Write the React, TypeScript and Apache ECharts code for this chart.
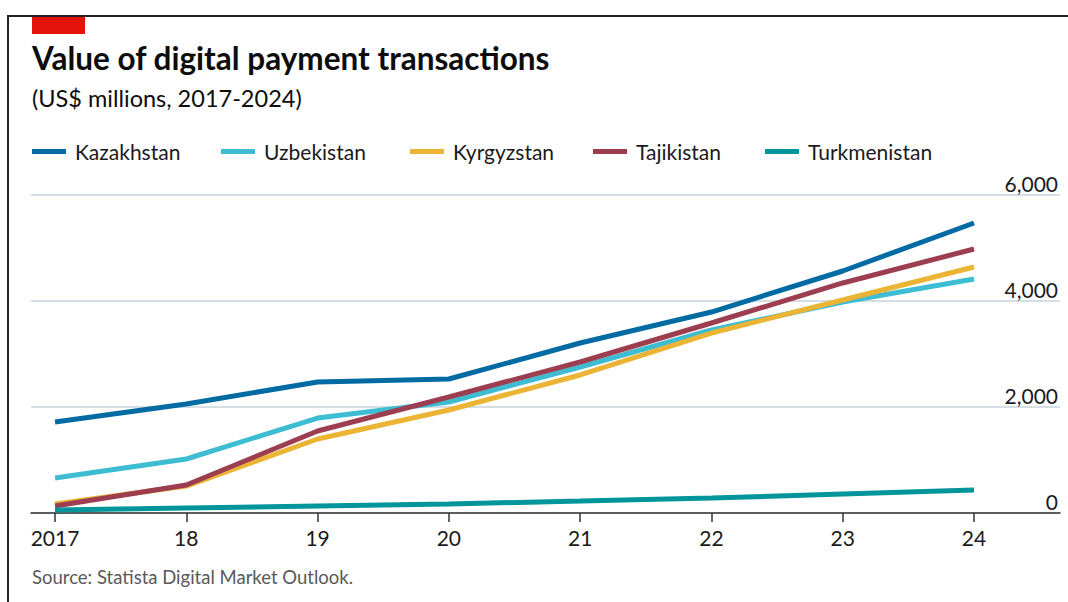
import React, { useEffect, useRef } from "react";
import * as echarts from "echarts";

const years = [2017, 2018, 2019, 2020, 2021, 2022, 2023, 2024];
const yearLabels = ["2017", "18", "19", "20", "21", "22", "23", "24"];
const kazakhstan = [1717, 2057, 2472, 2528, 3208, 3792, 4566, 5472];
const uzbekistan = [660, 1019, 1792, 2094, 2755, 3453, 3981, 4415];
const kyrgyzstan = [170, 509, 1396, 1943, 2604, 3396, 4019, 4642];
const tajikistan = [132, 528, 1547, 2189, 2849, 3585, 4340, 4981];
const turkmenistan = [57, 94, 132, 170, 226, 283, 358, 434];
const yTicks = [0, 2000, 4000, 6000];

const seriesDefs = [
  { name: "Kazakhstan", data: kazakhstan, color: "#006ba2", legendLeft: 32 },
  { name: "Uzbekistan", data: uzbekistan, color: "#3ebcd2", legendLeft: 221 },
  { name: "Kyrgyzstan", data: kyrgyzstan, color: "#ebb434", legendLeft: 410 },
  { name: "Tajikistan", data: tajikistan, color: "#9c3e50", legendLeft: 593 },
  { name: "Turkmenistan", data: turkmenistan, color: "#00959a", legendLeft: 765 },
];

const FONT = "Lato, 'Open Sans', 'DejaVu Sans', sans-serif";

export default function App() {
  const ref = useRef<HTMLDivElement>(null);
  useEffect(() => {
    if (!ref.current) return;
    const chart = echarts.init(ref.current, null, { renderer: "svg" });
    chart.setOption({
      animation: false,
      backgroundColor: "#ffffff",
      textStyle: { fontFamily: FONT },
      grid: { left: 31, right: 8, top: 195, bottom: 89, containLabel: false },
      legend: seriesDefs.map((s) => ({
        data: [s.name],
        left: s.legendLeft,
        top: 141,
        padding: 0,
        icon: "rect",
        itemWidth: 34,
        itemHeight: 5,
        itemGap: 0,
        textStyle: { fontSize: 21, color: "#1a1a1a", fontFamily: FONT, padding: [0, 0, 0, 4] },
        selectedMode: false,
      })),
      xAxis: {
        type: "value",
        min: 2016.817,
        max: 2024.655,
        splitLine: { show: false },
        axisLine: { show: true, lineStyle: { color: "#333333", width: 1.5 } },
        axisTick: {
          show: true,
          customValues: years,
          length: 9,
          lineStyle: { color: "#333333", width: 1.5 },
        },
        axisLabel: {
          customValues: years,
          formatter: (v: number) => yearLabels[years.indexOf(Math.round(v))] ?? "",
          fontSize: 21,
          color: "#1a1a1a",
          margin: 14,
          fontFamily: FONT,
        },
      },
      yAxis: {
        type: "value",
        position: "right",
        min: 0,
        max: 6000,
        interval: 2000,
        axisLine: { show: false },
        axisTick: { show: false },
        splitLine: {
          show: true,
          lineStyle: { color: "#c9d3dc", width: 1.5 },
        },
        axisLabel: {
          inside: true,
          margin: 2,
          align: "right",
          verticalAlign: "bottom",
          padding: [0, 0, 1, 0],
          fontSize: 21,
          color: "#1a1a1a",
          fontFamily: FONT,
          formatter: (v: number) => (yTicks.includes(v) ? v.toLocaleString("en-US") : ""),
        },
      },
      series: seriesDefs.map((s) => ({
        name: s.name,
        type: "line",
        data: s.data.map((v, i) => [years[i], v]),
        symbol: "none",
        color: s.color,
        lineStyle: { color: s.color, width: 5 },
        z: 3,
      })),
      graphic: [
        { type: "line", shape: { x1: 8, y1: 16, x2: 1068, y2: 16 }, style: { stroke: "#222222", lineWidth: 2 } },
        { type: "line", shape: { x1: 8, y1: 15, x2: 8, y2: 602 }, style: { stroke: "#222222", lineWidth: 2 } },
        { type: "rect", shape: { x: 32, y: 17, width: 53, height: 17 }, style: { fill: "#e3120b" } },
        {
          type: "text",
          left: 32,
          top: 42,
          style: { text: "Value of digital payment transactions", fontSize: 31.5, fontWeight: "bold", fill: "#0d0d0d", fontFamily: FONT },
        },
        {
          type: "text",
          left: 32,
          top: 86,
          style: { text: "(US$ millions, 2017-2024)", fontSize: 23.5, fill: "#0d0d0d", fontFamily: FONT },
        },
        {
          type: "text",
          left: 32,
          top: 567,
          style: { text: "Source: Statista Digital Market Outlook.", fontSize: 18.5, fill: "#595959", fontFamily: FONT },
        },
      ],
    });
    return () => chart.dispose();
  }, []);
  return <div ref={ref} style={{ position: "fixed", left: 0, top: 0, width: 1068, height: 602 }} />;
}
